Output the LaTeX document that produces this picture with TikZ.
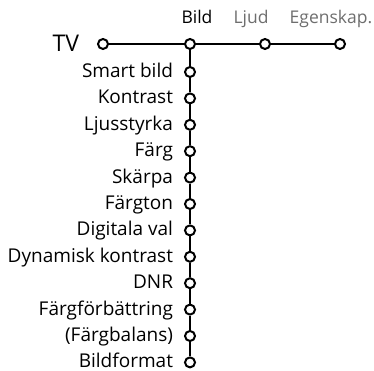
\documentclass[tikz,border=0pt]{standalone}
\usepackage{fontspec}
\setmainfont{Open Sans}
\usetikzlibrary{positioning}
\definecolor{menugrey}{RGB}{110,110,110}
\begin{document}
\begin{tikzpicture}[x=1pt, y=1pt, line width=2pt, node distance=14.4pt,
    dot/.style={draw, circle, fill=white, inner sep=0pt, minimum size=10pt},
    item/.style={dot, label={[label distance=9pt, inner sep=1pt, anchor=base east, yshift=-5.5pt,
        font=\fontsize{19}{22}\selectfont]left:#1}},
    tab/.style={font=\fontsize{17.5}{20}\selectfont, anchor=base, inner sep=1pt}]
    \useasboundingbox (0,0) rectangle (374,371);

    % top menu row
    \node[dot] (tv) at (103,327) {};
    \node[dot] (bild) at (190,327) {};
    \node[dot] (ljud) at (265,327) {};
    \node[dot] (egenskap) at (340,327) {};
    \node[font=\fontsize{23}{26}\selectfont, anchor=base east, inner sep=1pt] (tvlabel) at (81,319.5) {TV};
    \node[tab] (bildlabel) at (197,347) {Bild};
    \node[tab, text=menugrey] (ljudlabel) at (251,347) {Ljud};
    \node[tab, text=menugrey] (egenskaplabel) at (331,347) {Egenskap.};

    % picture sub menu
    \node[item=Smart bild] (smart) at (190,299) {};
    \node[item=Kontrast, below=of smart] (kontrast) {};
    \node[item=Ljusstyrka, below=of kontrast] (ljus) {};
    \node[item=Färg, below=of ljus] (farg) {};
    \node[item=Skärpa, below=of farg] (skarpa) {};
    \node[item=Färgton, below=of skarpa] (fargton) {};
    \node[item=Digitala val, below=of fargton] (digital) {};
    \node[item=Dynamisk kontrast, below=of digital] (dynamisk) {};
    \node[item=DNR, below=of dynamisk] (dnr) {};
    \node[item=Färgförbättring, below=of dnr] (forbattring) {};
    \node[item=(Färgbalans), below=of forbattring] (balans) {};
    \node[item=Bildformat, below=of balans] (format) {};

    \draw (tv) -- (bild) -- (ljud) -- (egenskap);
    \draw (bild) -- (smart) -- (kontrast) -- (ljus) -- (farg) -- (skarpa) -- (fargton)
        -- (digital) -- (dynamisk) -- (dnr) -- (forbattring) -- (balans) -- (format);
\end{tikzpicture}
\end{document}
